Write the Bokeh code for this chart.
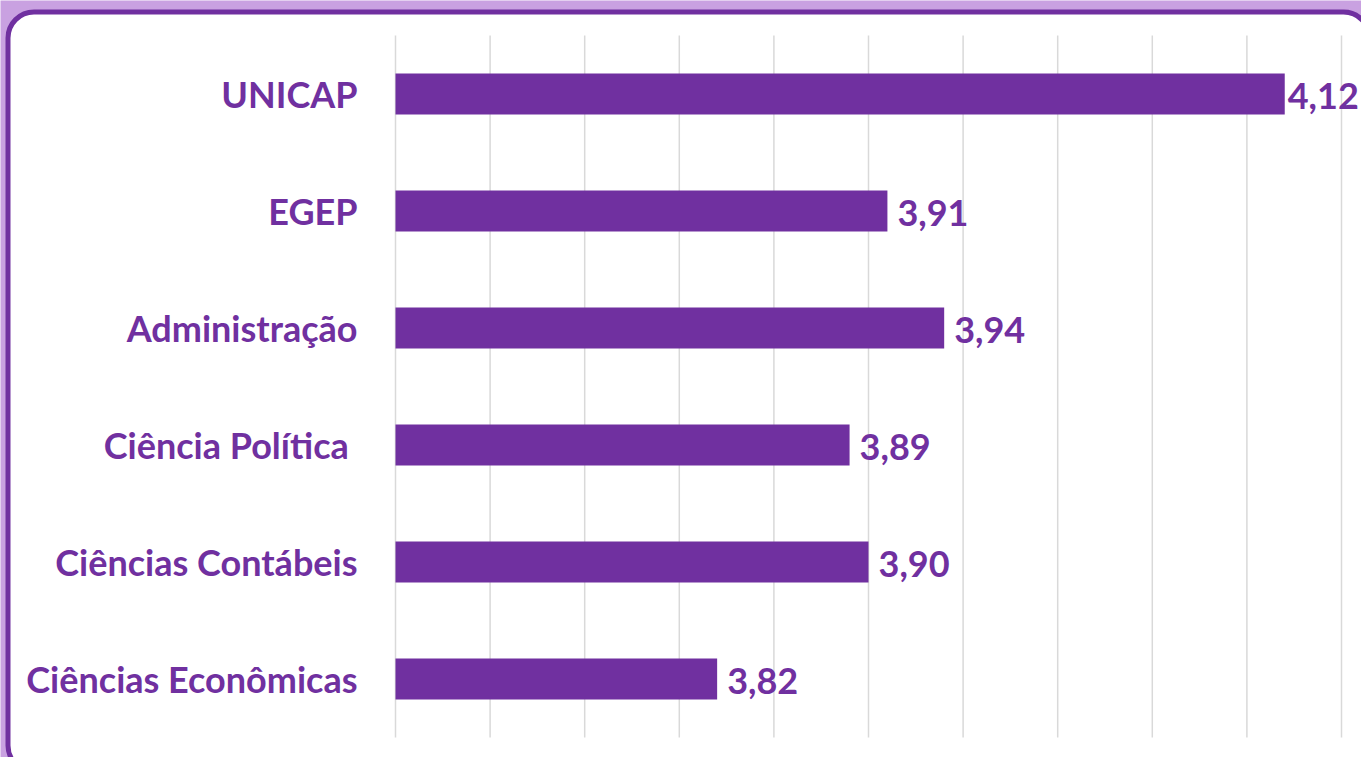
from bokeh.plotting import figure
from bokeh.models import Range1d, BoxAnnotation, ColumnDataSource
from bokeh.core.properties import value
from bokeh.embed import file_html
from bokeh.resources import INLINE

# ---- data ----
categories = ["UNICAP", "EGEP", "Administração", "Ciência Política ",
              "Ciências Contábeis", "Ciências Econômicas"]
scores = [4.12, 3.91, 3.94, 3.89, 3.90, 3.82]
grid_ticks = [3.65, 3.70, 3.75, 3.80, 3.85, 3.90, 3.95, 4.00, 4.05, 4.10, 4.15]

# ---- layout constants ----
W, H = 1361, 757
PX_PER_UNIT = 1892.0
AXIS_LEFT_PX = 395.0
BAND = 117.0
TOP_CENTER = 93.5
PURPLE = "#7030A0"
LIGHT = "#C9A1E1"
GRID = "#D9D9D9"

n = len(categories)
x_min = grid_ticks[0]
x_start = x_min - AXIS_LEFT_PX / PX_PER_UNIT
x_end = x_start + W / PX_PER_UNIT
y_top = -TOP_CENTER / BAND
y_bottom = y_top + H / BAND

labels = [f"{s:.2f}".replace(".", ",") for s in scores]
offsets = [3 if s == max(scores) else 10 for s in scores]

src = ColumnDataSource(dict(cat=categories, y=list(range(n)), score=scores,
                            label=labels, off=offsets))

p = figure(width=W, height=H, x_range=Range1d(x_start, x_end),
           y_range=Range1d(y_bottom, y_top),
           output_backend="svg", toolbar_location=None,
           x_axis_location=None, y_axis_location=None,
           min_border=0, background_fill_color=LIGHT,
           border_fill_color=LIGHT, outline_line_color=None)
p.grid.visible = False

box = BoxAnnotation(left=7.5, right=W + 8, top=11.5, bottom=H + 14,
                    left_units="canvas", right_units="canvas",
                    top_units="canvas", bottom_units="canvas",
                    fill_color="white", fill_alpha=1.0,
                    line_color=PURPLE, line_width=5, line_alpha=1.0,
                    border_radius=26, level="underlay")
p.add_layout(box)

p.segment(x0=grid_ticks, x1=grid_ticks, y0=-0.5, y1=n - 0.5,
          line_color=GRID, line_width=1.5)

p.hbar(y="y", left=x_min, right="score", height=0.35, source=src,
       fill_color=PURPLE, line_color=None)

p.text(x=x_min, y="y", text="cat", x_offset=-38, source=src,
       text_align="right", text_baseline="middle",
       text_font=value("Lato"), text_font_style="bold",
       text_font_size="36px", text_color=PURPLE)

p.text(x="score", y="y", text="label", x_offset="off", y_offset=2, source=src,
       text_align="left", text_baseline="middle",
       text_font=value("Lato"), text_font_style="bold",
       text_font_size="36px", text_color=PURPLE)

open("out.html", "w").write(file_html(p, INLINE))
